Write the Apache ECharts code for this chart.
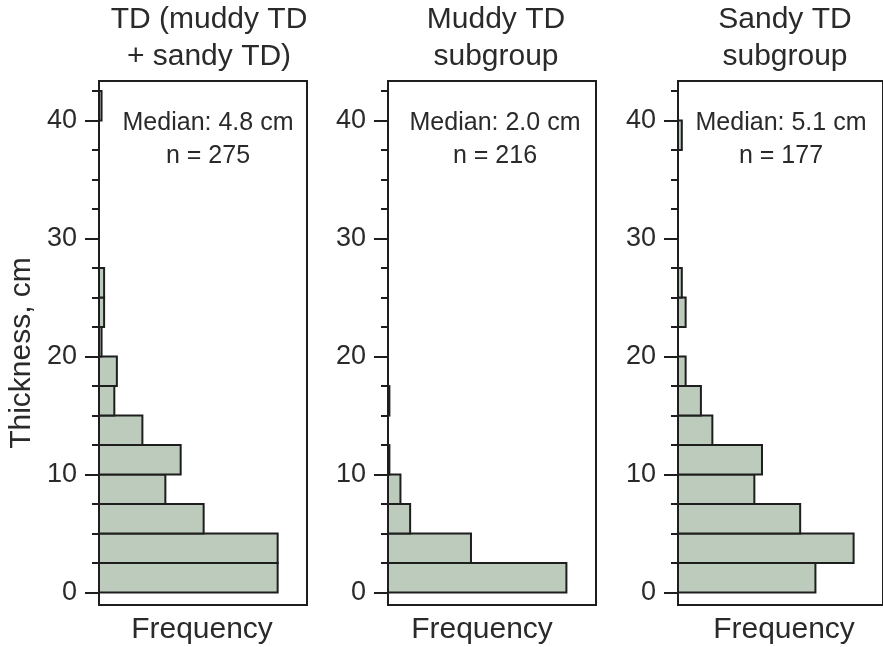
<html>
<head>
	<meta charset="UTF-8">
	<script src="https://cdn.jsdelivr.net/npm/echarts@6.0.0/dist/echarts.min.js"></script>
</head>
<body style="margin:0;">
<div id="main" style="width: 883px;height:647px;"></div>
<script type="text/javascript">

        // bin lower edges (cm), each bin is 2.5 cm thick
        var binStarts = [0, 2.5, 5, 7.5, 10, 12.5, 15, 17.5, 20, 22.5, 25, 27.5, 30, 32.5, 35, 37.5, 40]
        var binSize = 2.5

        // counts per bin
        var allTD   = [70, 70, 41, 26, 32, 17, 6, 7, 1, 2, 2, 0, 0, 0, 0, 0, 1]
        var muddyTD = [129, 60, 16, 9, 1, 0, 1, 0, 0, 0, 0, 0, 0, 0, 0, 0, 0]
        var sandyTD = [36, 46, 32, 20, 22, 9, 6, 2, 0, 2, 1, 0, 0, 0, 0, 1, 0]

        var titles   = ['TD (muddy TD\n+ sandy TD)', 'Muddy TD\nsubgroup', 'Sandy TD\nsubgroup']
        var medians  = ['Median: 4.8 cm', 'Median: 2.0 cm', 'Median: 5.1 cm']
        var counts_n = ['n = 275', 'n = 216', 'n = 177']

        // tick values on thickness axis
        var majorTicks = [0, 10, 20, 30, 40]
        var minorTicks = [2.5, 5, 7.5, 12.5, 15, 17.5, 22.5, 25, 27.5, 32.5, 35, 37.5, 42.5]

        var FONT = '"Liberation Sans", Arial, sans-serif'
        var INK = '#1e1e1e'
        var FILL = '#bccbbc'

        // panel layout
        var panelLeft = [99, 388, 678]
        var panelW = 208
        var panelTop = 81
        var panelH = 524
        var xMax = [81.5, 150.4, 53.7]
        var titleX = [209, 496, 785]
        var medianX = [208, 495, 781]
        var freqX = [202, 482, 784]

        var myChart = echarts.init(document.getElementById('main'));

        function toData(arr){
            var out = []
            for (var i = 0; i < arr.length; i++) {
                out.push([binStarts[i], binStarts[i] + binSize, arr[i]])
            }
            return out
        }

        function renderBin(params, api){
            var c = api.value(2)
            if (!c) return null
            var p0 = api.coord([0, api.value(0)])
            var p1 = api.coord([c, api.value(1)])
            return {
                type: 'rect',
                shape: { x: p0[0], y: p1[1], width: p1[0] - p0[0], height: p0[1] - p1[1] },
                style: { fill: FILL, stroke: INK, lineWidth: 2 }
            }
        }

        var seriesData = [allTD, muddyTD, sandyTD]
        var grids = [], xAxes = [], yAxes = [], series = [], graphics = []

        for (var k = 0; k < 3; k++) {
            grids.push({ left: panelLeft[k], top: panelTop, width: panelW, height: panelH,
                show: true, borderColor: INK, borderWidth: 2, backgroundColor: 'transparent' })
            xAxes.push({ gridIndex: k, type: 'value', min: 0, max: xMax[k],
                axisLine: { show: false }, axisTick: { show: false }, axisLabel: { show: false }, splitLine: { show: false } })
            // major ticks + labels
            yAxes.push({ gridIndex: k, type: 'value', min: -1.05, max: 43.35, position: 'left',
                axisLine: { show: true, lineStyle: { color: INK, width: 2 } },
                axisTick: { show: true, length: 14, customValues: majorTicks, lineStyle: { color: INK, width: 2 } },
                axisLabel: { customValues: majorTicks, margin: 22, fontSize: 27, fontFamily: FONT, color: '#2a2a2a' },
                splitLine: { show: false } })
            // minor ticks
            yAxes.push({ gridIndex: k, type: 'value', min: -1.05, max: 43.35, position: 'left',
                axisLine: { show: false },
                axisTick: { show: true, length: 7, customValues: minorTicks, lineStyle: { color: INK, width: 2 } },
                axisLabel: { show: false },
                splitLine: { show: false } })
            series.push({ type: 'custom', xAxisIndex: k, yAxisIndex: 2 * k, renderItem: renderBin,
                encode: { x: 2, y: [0, 1] }, data: toData(seriesData[k]), clip: false, silent: true })

            graphics.push({ type: 'text', x: titleX[k], y: 38, style: { text: titles[k], font: '30px ' + FONT,
                fill: '#2a2a2a', align: 'center', verticalAlign: 'middle', lineHeight: 37 } })
            graphics.push({ type: 'text', x: medianX[k], y: 140, style: { text: medians[k] + '\n' + counts_n[k],
                font: '25px ' + FONT, fill: '#2a2a2a', align: 'center', verticalAlign: 'middle', lineHeight: 33 } })
            graphics.push({ type: 'text', x: freqX[k], y: 630, style: { text: 'Frequency', font: '30px ' + FONT,
                fill: '#2a2a2a', align: 'center', verticalAlign: 'middle' } })
        }

        graphics.push({ type: 'text', x: 22, y: 353, rotation: Math.PI / 2,
            style: { text: 'Thickness, cm', font: '30px ' + FONT, fill: '#2a2a2a', align: 'center', verticalAlign: 'middle' } })

        var option = {
            animation: false,
            backgroundColor: '#ffffff',
            grid: grids,
            xAxis: xAxes,
            yAxis: yAxes,
            series: series,
            graphic: graphics
        };

        myChart.setOption(option);

</script>
</body>
</html>
